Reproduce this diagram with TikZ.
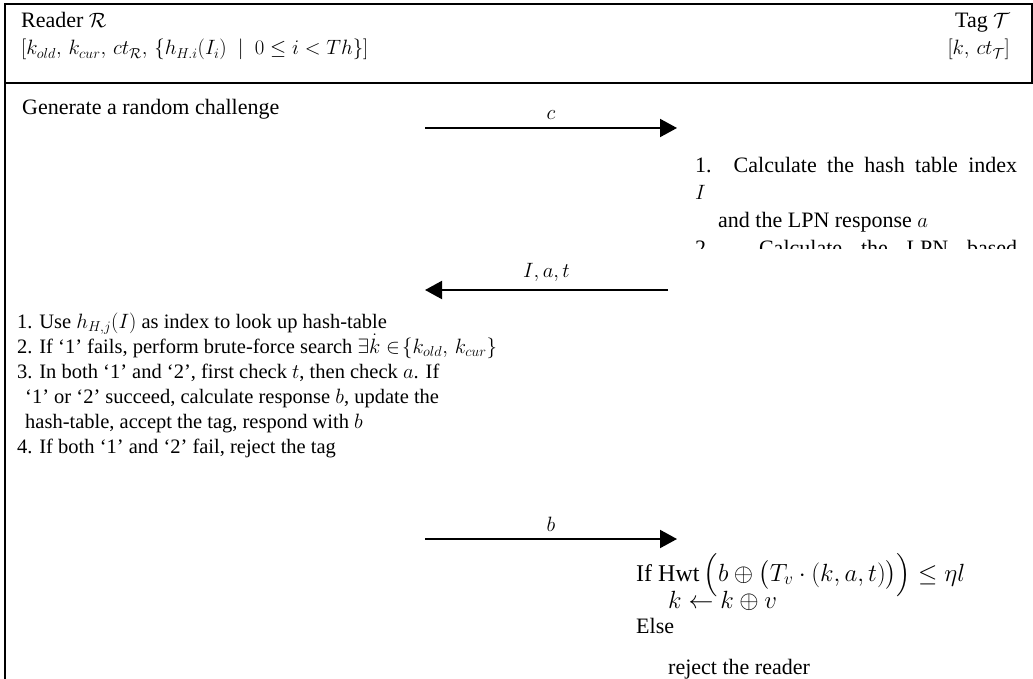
\documentclass[tikz,border=0pt]{standalone}
\usepackage{amsmath,amssymb}
\usepackage{fontspec}
\setmainfont{Liberation Serif}
\usetikzlibrary{arrows.meta}
\newcommand{\hdrfont}{\fontsize{22}{27}\selectfont}
\newcommand{\bodyfont}{\fontsize{22}{27}\selectfont}
\newcommand{\listfont}{\fontsize{20.5}{25}\selectfont}
\tikzset{
  hdr/.style={inner sep=0pt,anchor=base west,font=\hdrfont},
  hdrr/.style={hdr,anchor=base east},
  lbl/.style={inner sep=0pt,anchor=base west,font=\bodyfont},
  mlbl/.style={lbl,font=\fontsize{24}{27}\selectfont},
  item/.style={inner sep=0pt,anchor=base west,font=\listfont},
  msg/.style={-{Triangle[length=17pt,width=18pt]},line width=2pt},
  msglbl/.style={above=7pt,inner sep=0pt,font=\bodyfont},
  frame/.style={line width=2pt},
  sep/.style={line width=1.3pt}
}

\begin{document}
\begin{tikzpicture}[x=1pt,y=-1pt]
  \useasboundingbox (0,0) rectangle (1033,679);
  % table frame
  \draw[frame] (5,679) -- (5,4) -- (1033,4);
  \draw[frame] (1032,4) -- (1032,83);
  \draw[sep] (5,83) -- (1033,83);

  % header row
  \node[hdr] (rdr) at (21,28) {Reader $\mathcal{R}$};
  \node[hdr] (rdrkey) at (21,55) {$[k_{old},\,k_{cur},\,ct_{\mathcal{R}},\,\{h_{H.i}(I_i)\ \mid\ 0\leq i<Th\}]$};
  \node[hdrr] (tag) at (1010,28) {Tag $\mathcal{T}$};
  \node[hdrr] (tagkey) at (1010,55) {$[k,\,ct_{\mathcal{T}}]$};

  % challenge
  \node[lbl] (gen) at (22,115) {Generate a random challenge};
  \coordinate (cS) at (425,128);
  \coordinate (cE) at (677,128);
  \draw[msg] (cS) -- node[msglbl] (cmsg) {$c$} (cE);

  % tag computes I, a, t (cut off below)
  \begin{scope}
    \clip (600,84) rectangle (1033,248);
    \node[lbl] (calc1) at (695,173) {\makebox[322pt][s]{1. Calculate the hash table index}};
    \node[lbl] (calc1i) at (695,200) {$I$};
    \node[lbl] (calc1b) at (718,228) {and the LPN response $a$};
    \node[lbl] (calc2) at (695,255) {\makebox[322pt][s]{2. Calculate the LPN based}};
  \end{scope}

  \coordinate (rS) at (668,290);
  \coordinate (rE) at (425,290);
  \draw[msg] (rS) -- node[msglbl] (rmsg) {$I,a,t$} (rE);

  % reader checks
  \node[item] (chk1) at (17,328) {1. Use $h_{H,j}(I)$ as index to look up hash-table};
  \node[item] (chk2) at (17,353) {2. If `1' fails, perform brute-force search $\exists\dot{k}\in\!\{k_{old},\,k_{cur}\}$};
  \node[item] (chk3) at (17,378) {3. In both `1' and `2', first check $t$, then check $a$. If};
  \node[item] (chk3b) at (25,403) {`1' or `2' succeed, calculate response $b$, update the};
  \node[item] (chk3c) at (25,428) {hash-table, accept the tag, respond with $b$};
  \node[item] (chk4) at (17,453) {4. If both `1' and `2' fail, reject the tag};

  \coordinate (bS) at (425,539);
  \coordinate (bE) at (677,539);
  \draw[msg] (bS) -- node[msglbl] (bmsg) {$b$} (bE);

  % tag verifies b
  \node[mlbl] (ver1) at (636,581) {If $\operatorname{Hwt}\,\Bigl(b\oplus\bigl(T_v\cdot(k,a,t)\bigr)\Bigr)\leq\eta l$};
  \node[mlbl] (ver2) at (668,608) {$k\leftarrow k\oplus v$};
  \node[lbl] (ver3) at (636,633) {Else};
  \node[lbl] (ver4) at (668,674) {reject the reader};
\end{tikzpicture}
\end{document}
